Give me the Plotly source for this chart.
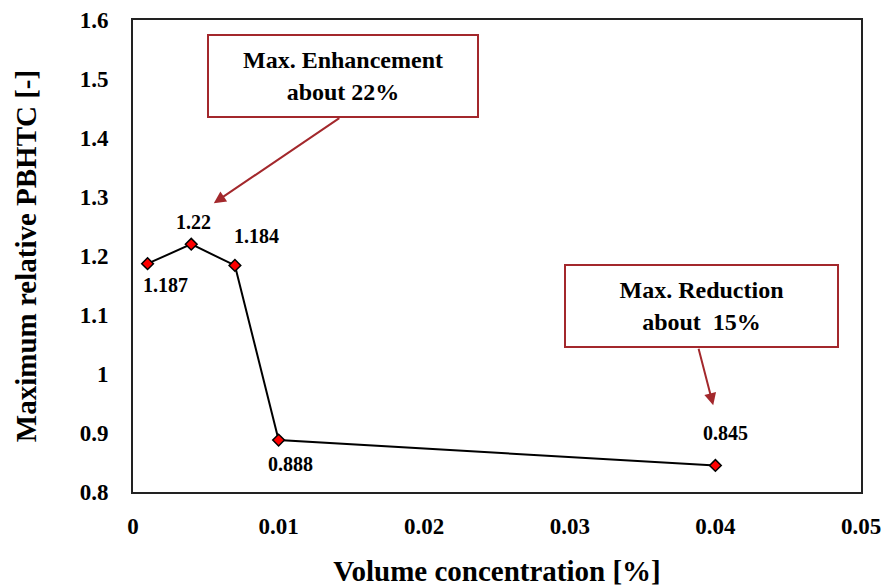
import plotly.graph_objects as go

conc = [0.001, 0.004, 0.007, 0.01, 0.04]
rel_pbhtc = [1.187, 1.22, 1.184, 0.888, 0.845]
point_labels = ["1.187", "1.22", "1.184", "0.888", "0.845"]
label_shift_x = [18, 2, 22, 12, 10]
label_shift_y = [-21, 22, 29, -24, 32]

x_ticks = [0, 0.01, 0.02, 0.03, 0.04, 0.05]
x_tick_text = ["0", "0.01", "0.02", "0.03", "0.04", "0.05"]
y_ticks = [0.8, 0.9, 1.0, 1.1, 1.2, 1.3, 1.4, 1.5, 1.6]
y_tick_text = ["0.8", "0.9", "1", "1.1", "1.2", "1.3", "1.4", "1.5", "1.6"]

FONT = "Liberation Serif"
RED = "#a3282c"

fig = go.Figure()
fig.add_trace(go.Scatter(
    x=conc, y=rel_pbhtc, mode="lines+markers",
    line=dict(color="black", width=2),
    marker=dict(symbol="diamond", size=9, color="#ff0000",
                line=dict(color="black", width=1.5)),
    showlegend=False, cliponaxis=False,
))

annotations = []
for xv, yv, t, dx, dy in zip(conc, rel_pbhtc, point_labels, label_shift_x, label_shift_y):
    annotations.append(dict(x=xv, y=yv, xref="x", yref="y", text="<b>%s</b>" % t,
                            showarrow=False, xshift=dx, yshift=dy,
                            font=dict(family=FONT, size=20, color="black")))

# text boxes
annotations.append(dict(x=0.288, y=0.881, xref="paper", yref="paper",
                        xanchor="center", yanchor="middle",
                        text="<b>Max. Enhancement<br>about 22%</b>", showarrow=False,
                        width=266, height=78, bordercolor=RED, borderwidth=2,
                        bgcolor="white", align="center",
                        font=dict(family=FONT, size=24, color="black")))
annotations.append(dict(x=0.781, y=0.394, xref="paper", yref="paper",
                        xanchor="center", yanchor="middle",
                        text="<b>Max. Reduction<br>about  15%</b>", showarrow=False,
                        width=269, height=78, bordercolor=RED, borderwidth=2,
                        bgcolor="white", align="center",
                        font=dict(family=FONT, size=24, color="black")))
# arrows
annotations.append(dict(x=0.111, y=0.612, xref="paper", yref="paper", text="",
                        showarrow=True, ax=127, ay=-86, arrowhead=2, arrowsize=1.2,
                        arrowwidth=2, arrowcolor=RED))
annotations.append(dict(x=0.797, y=0.184, xref="paper", yref="paper", text="",
                        showarrow=True, ax=-15, ay=-58, arrowhead=2, arrowsize=1.2,
                        arrowwidth=2, arrowcolor=RED))

fig.update_layout(
    width=886, height=588,
    margin=dict(l=133, r=25, t=20, b=96),
    paper_bgcolor="white", plot_bgcolor="white",
    font=dict(family=FONT, color="black"),
    annotations=annotations,
    xaxis=dict(range=[0, 0.05], tickvals=x_ticks,
               ticktext=["<b>%s</b>" % t for t in x_tick_text],
               showgrid=False, zeroline=False, showline=True, mirror=True,
               linecolor="#222", linewidth=2, ticks="", automargin=False,
               ticklabelstandoff=12,
               tickfont=dict(family=FONT, size=23, color="black"),
               title=dict(text="<b>Volume concentration [%]</b>", standoff=23,
                          font=dict(family=FONT, size=29, color="black"))),
    yaxis=dict(range=[0.8, 1.6], tickvals=y_ticks,
               ticktext=["<b>%s</b>" % t for t in y_tick_text],
               showgrid=False, zeroline=False, showline=True, mirror=True,
               linecolor="#222", linewidth=2, ticks="", automargin=False,
               ticklabelstandoff=18,
               tickfont=dict(family=FONT, size=23, color="black"),
               title=dict(text="<b>Maximum relative PBHTC [-]</b>", standoff=35,
                          font=dict(family=FONT, size=29, color="black"))),
)

fig.write_html("out.html",
               config={"displayModeBar": False},
               post_script="document.body.style.margin='0';"
                           "document.body.style.overflow='hidden';")
